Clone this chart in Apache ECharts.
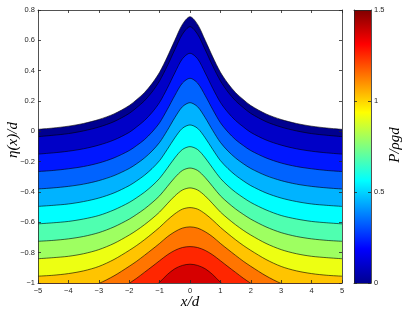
<!DOCTYPE html>
<html><head><meta charset="utf-8">
<script src="https://cdn.jsdelivr.net/npm/echarts@6/dist/echarts.min.js"></script>
<style>html,body{margin:0;padding:0;background:#fff}#c{width:407px;height:312px}</style>
</head><body><div id="c"></div>
<script>
// x positions (x/d)
const xs = [-5,-4.5,-4,-3.5,-3,-2.5,-2,-1.75,-1.5,-1.25,-1,-0.75,-0.5,-0.25,0,0.25,0.5,0.75,1,1.25,1.5,1.75,2,2.5,3,3.5,4,4.5,5];
// free surface eta(x)/d
const eta = [0.013,0.022,0.034,0.052,0.078,0.115,0.17,0.21,0.255,0.315,0.39,0.49,0.60,0.705,0.756,0.705,0.60,0.49,0.39,0.315,0.255,0.21,0.17,0.115,0.078,0.052,0.034,0.022,0.013];
// pressure contour lines (y/d at each x), top to bottom
const c1 = [-0.035,-0.026,-0.015,0.003,0.028,0.064,0.118,0.157,0.201,0.259,0.333,0.430,0.538,0.640,0.690,0.640,0.538,0.430,0.333,0.259,0.201,0.157,0.118,0.064,0.028,0.003,-0.015,-0.026,-0.035];
const c2 = [-0.150,-0.142,-0.131,-0.115,-0.091,-0.057,-0.007,0.030,0.071,0.124,0.191,0.283,0.385,0.478,0.515,0.478,0.385,0.283,0.191,0.124,0.071,0.030,-0.007,-0.057,-0.091,-0.115,-0.131,-0.142,-0.150];
const c3 = [-0.265,-0.258,-0.247,-0.232,-0.209,-0.175,-0.127,-0.093,-0.055,-0.005,0.057,0.143,0.236,0.318,0.350,0.318,0.236,0.143,0.057,-0.005,-0.055,-0.093,-0.127,-0.175,-0.209,-0.232,-0.247,-0.258,-0.265];
const c4 = [-0.380,-0.373,-0.363,-0.348,-0.325,-0.292,-0.245,-0.213,-0.176,-0.130,-0.073,0.005,0.090,0.162,0.189,0.162,0.090,0.005,-0.073,-0.130,-0.176,-0.213,-0.245,-0.292,-0.325,-0.348,-0.363,-0.373,-0.380];
const c5 = [-0.495,-0.488,-0.479,-0.463,-0.440,-0.406,-0.358,-0.326,-0.290,-0.246,-0.193,-0.120,-0.043,0.020,0.042,0.020,-0.043,-0.120,-0.193,-0.246,-0.290,-0.326,-0.358,-0.406,-0.440,-0.463,-0.479,-0.488,-0.495];
const c6 = [-0.610,-0.603,-0.594,-0.578,-0.555,-0.518,-0.469,-0.437,-0.402,-0.360,-0.310,-0.244,-0.175,-0.120,-0.101,-0.120,-0.175,-0.244,-0.310,-0.360,-0.402,-0.437,-0.469,-0.518,-0.555,-0.578,-0.594,-0.603,-0.610];
const c7 = [-0.725,-0.719,-0.709,-0.693,-0.668,-0.630,-0.579,-0.547,-0.512,-0.471,-0.425,-0.365,-0.305,-0.258,-0.242,-0.258,-0.305,-0.365,-0.425,-0.471,-0.512,-0.547,-0.579,-0.630,-0.668,-0.693,-0.709,-0.719,-0.725];
const c8 = [-0.840,-0.833,-0.824,-0.807,-0.780,-0.739,-0.684,-0.652,-0.616,-0.576,-0.532,-0.478,-0.426,-0.387,-0.373,-0.387,-0.426,-0.478,-0.532,-0.576,-0.616,-0.652,-0.684,-0.739,-0.780,-0.807,-0.824,-0.833,-0.840];
const c9 = [-0.955,-0.949,-0.938,-0.920,-0.891,-0.845,-0.785,-0.752,-0.715,-0.675,-0.633,-0.586,-0.544,-0.513,-0.503,-0.513,-0.544,-0.586,-0.633,-0.675,-0.715,-0.752,-0.785,-0.845,-0.891,-0.920,-0.938,-0.949,-0.955];
const c10 = [-1.070,-1.063,-1.053,-1.034,-1.003,-0.953,-0.890,-0.856,-0.818,-0.779,-0.739,-0.696,-0.662,-0.638,-0.630,-0.638,-0.662,-0.696,-0.739,-0.779,-0.818,-0.856,-0.890,-0.953,-1.003,-1.034,-1.053,-1.063,-1.070];
const c11 = [-1.185,-1.179,-1.168,-1.150,-1.117,-1.066,-1.002,-0.968,-0.930,-0.892,-0.853,-0.815,-0.785,-0.766,-0.760,-0.766,-0.785,-0.815,-0.853,-0.892,-0.930,-0.968,-1.002,-1.066,-1.117,-1.150,-1.168,-1.179,-1.185];
const c12 = [-1.300,-1.295,-1.285,-1.270,-1.250,-1.210,-1.150,-1.120,-1.080,-1.040,-0.995,-0.945,-0.906,-0.884,-0.876,-0.884,-0.906,-0.945,-0.995,-1.040,-1.080,-1.120,-1.150,-1.210,-1.250,-1.270,-1.285,-1.295,-1.300];
// band fill colours (jet), band below each curve
const bandColors = ['#00008F','#0000C7','#0017FF','#0063FF','#00B3FF','#00FFFF','#4FFFB0','#9EFF61','#EDFF12','#FFC400','#FF7500','#FF2600','#D60000'];
// colorbar
const cbarMax = 1.5;

const curves = [eta,c1,c2,c3,c4,c5,c6,c7,c8,c9,c10,c11,c12];
const axisColor = '#262626';
const tickFont = {fontSize:7.5, color:axisColor, fontFamily:'Liberation Sans, Arial, sans-serif'};
const fmt = v => String(+v.toFixed(2)).replace('-', '\u2212');

const series = curves.map((ys, i) => ({
  type:'line', xAxisIndex:0, yAxisIndex:0,
  data: xs.map((x, j) => [x, ys[j]]),
  showSymbol:false, smooth:0.3, clip:true, silent:true,
  lineStyle:{color:'#000', width:0.6},
  areaStyle:{color:bandColors[i], opacity:1, origin:'start'},
  z: 2 + i*0.01
}));
series.push({
  type:'bar', xAxisIndex:2, yAxisIndex:2, data:[cbarMax], barWidth:'100%', silent:true,
  itemStyle:{color:{type:'linear',x:0,y:0,x2:0,y2:1,colorStops:[
    {offset:0,color:'#800000'},{offset:0.125,color:'#FF0000'},{offset:0.375,color:'#FFFF00'},
    {offset:0.625,color:'#00FFFF'},{offset:0.875,color:'#0000FF'},{offset:1,color:'#000090'}]}}
});

const tickIn = {show:true, inside:true, length:3, lineStyle:{color:axisColor, width:0.8}};
const line = {show:true, onZero:false, lineStyle:{color:axisColor, width:0.8}};
const option = {
  animation:false,
  grid:[{left:38, top:10, width:304, height:273},{left:354, top:10, width:17, height:273}],
  xAxis:[
    {gridIndex:0, type:'value', min:-5, max:5, interval:1, position:'bottom', z:10,
     axisLine:line, axisTick:tickIn, splitLine:{show:false},
     axisLabel:Object.assign({margin:4, formatter:fmt}, tickFont)},
    {gridIndex:0, type:'value', min:-5, max:5, interval:1, position:'top', z:10,
     axisLine:line, axisTick:tickIn, splitLine:{show:false}, axisLabel:{show:false}},
    {gridIndex:1, type:'category', data:['P'], position:'bottom', z:10,
     axisLine:line, axisTick:{show:false}, axisLabel:{show:false}},
    {gridIndex:1, type:'category', data:['P'], position:'top', z:10,
     axisLine:line, axisTick:{show:false}, axisLabel:{show:false}}
  ],
  yAxis:[
    {gridIndex:0, type:'value', min:-1, max:0.8, interval:0.2, position:'left', z:10,
     axisLine:line, axisTick:tickIn, splitLine:{show:false},
     axisLabel:Object.assign({margin:3, formatter:fmt}, tickFont)},
    {gridIndex:0, type:'value', min:-1, max:0.8, interval:0.2, position:'right', z:10,
     axisLine:line, axisTick:tickIn, splitLine:{show:false}, axisLabel:{show:false}},
    {gridIndex:1, type:'value', min:0, max:cbarMax, interval:0.5, position:'right', z:10,
     axisLine:line, axisTick:tickIn, splitLine:{show:false},
     axisLabel:Object.assign({margin:3, formatter:fmt}, tickFont)},
    {gridIndex:1, type:'value', min:0, max:cbarMax, interval:0.5, position:'left', z:10,
     axisLine:line, axisTick:tickIn, splitLine:{show:false}, axisLabel:{show:false}}
  ],
  graphic:[
    {type:'text', x:190, y:302, z:20, style:{text:'x/d', font:'italic 15px "Liberation Serif", serif', fill:'#000', textAlign:'center', textVerticalAlign:'middle', align:'center', verticalAlign:'middle'}},
    {type:'text', x:13, y:140, rotation:Math.PI/2, z:20, style:{text:'\u03B7(x)/d', font:'italic 15px "Liberation Serif", serif', fill:'#000', textAlign:'center', textVerticalAlign:'middle', align:'center', verticalAlign:'middle'}},
    {type:'text', x:395, y:145, rotation:Math.PI/2, z:20, style:{text:'P/\u03C1gd', font:'italic 15px "Liberation Serif", serif', fill:'#000', textAlign:'center', textVerticalAlign:'middle', align:'center', verticalAlign:'middle'}}
  ],
  series:series
};
const chart = echarts.init(document.getElementById('c'), null, {renderer:'canvas'});
chart.setOption(option);
</script></body></html>
